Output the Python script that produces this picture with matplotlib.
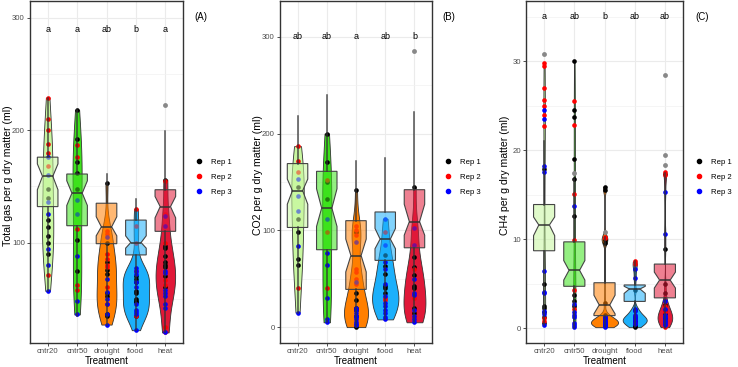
import numpy as np
import matplotlib.pyplot as plt
from matplotlib import cbook
from matplotlib.colors import to_rgba
from matplotlib.lines import Line2D

plt.rcParams['font.family'] = ['Liberation Sans', 'DejaVu Sans']

treatments = ['cntr20', 'cntr50', 'drought', 'flood', 'heat']
fills = ['#c8f7a0', '#3de21c', '#ff7f00', '#1cb0fb', '#e01838']
rep_colors = ['black', 'red', 'blue']
rep_labels = ['Rep 1', 'Rep 2', 'Rep 3']

# ---- (A) total gas, points per rep (one list per treatment)
total_rep1 = [[148, 140, 120, 114, 106, 100, 90],
              [218, 192, 172, 162, 148, 102, 75],
              [153, 100, 83, 76, 72, 55, 52, 36, 35],
              [70, 68, 65, 57, 55, 50, 48, 47, 35],
              [156, 97, 95, 88, 83, 80, 78, 70, 60]]
total_rep2 = [[229, 210, 200, 188, 180, 168, 71],
              [187, 176, 112, 62, 58],
              [110, 108, 90, 85, 80, 78, 60, 45],
              [130, 115, 100, 75, 35],
              [155, 125, 100, 67, 62, 25, 20]]
total_rep3 = [[176, 160, 136, 125, 94, 80, 57],
              [138, 125, 88, 48, 36],
              [105, 68, 56, 50, 45, 36, 27],
              [77, 75, 72, 65, 60, 45, 40, 38, 36, 22],
              [124, 115, 75, 73, 58, 55, 52, 45, 42, 20]]
total_q1 = [132, 115, 99, 89, 110]
total_med = [159, 144, 114, 100, 132]
total_q3 = [176, 161, 135, 120, 147]
total_notch_lo = [147, 133, 106, 95, 122]
total_notch_hi = [170, 155, 123, 106, 141]
total_whislo = [57, 35, 27, 22, 20]
total_whishi = [229, 218, 161, 139, 199]
total_fliers = [[], [], [], [], [222]]
total_letters = ['a', 'a', 'ab', 'b', 'a']

# ---- (B) CO2
co2_rep1 = [[145, 112, 98, 70, 64],
            [200, 171, 150, 132],
            [142, 98, 35, 28, 20, 18, 12, 0],
            [75, 63, 55, 42, 40, 35],
            [145, 72, 62, 54, 42, 40, 20, 15]]
co2_rep2 = [[187, 172, 160, 40],
            [152, 98, 40],
            [104, 100, 95, 60, 57, 50, 45],
            [98, 30, 28],
            [105, 60, 30, 10]]
co2_rep3 = [[153, 135, 120, 84, 15],
            [112, 77, 64, 30, 8, 5],
            [88, 47, 20, 18, 15, 12, 10, 8, 5, 3, 2],
            [112, 85, 67, 60, 45, 32, 25, 22, 18, 15, 10, 8],
            [102, 85, 50, 35, 33, 18, 12, 8, 5]]
co2_q1 = [103, 80, 39, 69, 82]
co2_med = [141, 123, 74, 91, 109]
co2_q3 = [169, 161, 110, 119, 142]
co2_notch_lo = [127, 104, 57, 81, 95]
co2_notch_hi = [153, 143, 91, 102, 127]
co2_whislo = [15, 5, 0, 8, 5]
co2_whishi = [218, 240, 172, 175, 222]
co2_fliers = [[], [], [], [], [285]]
co2_letters = ['ab', 'ab', 'a', 'ab', 'b']

# ---- (C) CH4
ch4_rep1 = [[17.9, 5.0, 2.5, 2.3, 1.8, 1.2, 0.6],
            [30.0, 24.5, 23.8, 19.0, 16.8, 12.6, 3.7, 3.0, 2.5],
            [15.9, 15.5, 9.9, 9.6, 2.8, 1.5, 0.8, 0.6, 0.5, 0.3],
            [4.3, 2.0, 1.1, 0.9, 0.7, 0.5, 0.2, 0.1],
            [17.3, 8.9, 5.0, 4.0, 2.6, 2.0, 1.6, 1.3, 1.0, 0.9, 0.6]]
ch4_rep2 = [[29.8, 29.5, 27.0, 25.7, 25.0, 24.0, 22.7, 1.1, 0.8],
            [25.5, 22.9, 15.1, 9.9, 4.3, 2.2],
            [10.3, 10.1, 1.2, 0.9, 0.7, 0.5, 0.4],
            [7.5, 7.2, 1.4, 1.0, 0.6],
            [17.6, 17.2, 2.5, 2.0, 1.8, 1.4, 0.9, 0.6, 0.1]]
ch4_rep3 = [[24.5, 23.5, 18.2, 17.6, 6.4, 4.1, 3.9, 1.9, 1.6, 0.4],
            [13.7, 2.7, 1.8, 1.5, 1.2, 0.6, 0.3, 0.1],
            [1.3, 1.1, 1.0, 0.8, 0.7, 0.6, 0.5, 0.4, 0.3, 0.2, 0.1],
            [6.6, 5.6, 2.2, 1.9, 1.5, 1.3, 1.2, 1.0, 0.9, 0.8, 0.6, 0.5],
            [15.3, 10.6, 3.0, 2.2, 1.5, 1.3, 1.2, 1.0, 0.8, 0.7, 0.5, 0.4]]
ch4_q1 = [8.7, 4.7, 1.4, 3.0, 3.4]
ch4_med = [11.6, 6.5, 2.6, 4.4, 5.4]
ch4_q3 = [13.9, 9.7, 5.1, 4.85, 7.2]
ch4_notch_lo = [10.4, 5.4, 1.6, 3.9, 4.5]
ch4_notch_hi = [12.5, 7.6, 3.7, 4.7, 6.3]
ch4_whislo = [0.3, 0.0, 0.1, 0.1, 0.0]
ch4_whishi = [21.0, 16.8, 10.3, 7.5, 17.4]
ch4_fliers = [[30.8], [17.5], [10.8], [], [18.4, 19.5, 28.5]]
ch4_letters = ['a', 'ab', 'b', 'ab', 'ab']


def nrd0(x):
    x = np.asarray(x, float)
    sd = x.std(ddof=1)
    iqr = np.subtract(*np.percentile(x, [75, 25]))
    lo = min(sd, iqr / 1.34) if iqr > 0 else sd
    return 0.9 * lo * len(x) ** -0.2


def kde(X, coords):
    X = np.asarray(X, float)
    bw = nrd0(X)
    z = (coords[:, None] - X[None, :]) / bw
    return np.exp(-0.5 * z ** 2).sum(1) / (len(X) * bw * np.sqrt(2 * np.pi))


def panel(ax, reps, q1, med, q3, nlo, nhi, wlo, whi, fliers, letters,
          letter_y, ylim, yticks, minor, ylabel, label_x):
    pos = np.arange(1, 6)
    groups = [r1 + r2 + r3 for r1, r2, r3 in zip(*reps)]

    # violins, area scaled like ggplot
    vp = cbook.violin_stats(groups, kde, points=200)
    peak = [v['vals'].max() for v in vp]
    widths = [0.9 * p / max(peak) for p in peak]
    parts = ax.violin(vp, positions=pos, widths=widths, showextrema=False)
    for body, c in zip(parts['bodies'], fills):
        body.set_facecolor(c)
        body.set_edgecolor('#333333')
        body.set_linewidth(0.6)
        body.set_alpha(1)
        body.set_zorder(2)

    # points
    for vals, col in zip(reps, rep_colors):
        for p, v in zip(pos, vals):
            ax.scatter([p] * len(v), v, s=11, color=col, linewidths=0, zorder=3)

    # notched boxes on top
    stats = []
    for i in range(5):
        stats.append(dict(q1=q1[i], med=med[i], q3=q3[i], cilo=nlo[i], cihi=nhi[i],
                          whislo=wlo[i], whishi=whi[i], fliers=fliers[i]))
    bp = ax.bxp(stats, positions=pos, widths=0.7, shownotches=True, patch_artist=True,
                showcaps=False, zorder=4,
                boxprops=dict(edgecolor='#444444', linewidth=0.8),
                whiskerprops=dict(color='#333333', linewidth=1.1, alpha=0.85),
                medianprops=dict(color='#333333', linewidth=1.1),
                flierprops=dict(marker='o', markerfacecolor='#888888',
                                markeredgecolor='none', markersize=3.5))
    for b, c in zip(bp['boxes'], fills):
        b.set_facecolor(to_rgba(c, 0.55))

    for p, t in zip(pos, letters):
        ax.text(p, letter_y, t, ha='center', va='center', fontsize=6.5, zorder=6)

    ax.set_xlim(0.4, 5.6)
    ax.set_ylim(*ylim)
    ax.set_xticks(pos)
    ax.set_xticklabels(treatments)
    ax.set_yticks(yticks)
    ax.set_yticks(minor, minor=True)
    ax.set_axisbelow(True)
    ax.grid(True, which='major', color='#ebebeb', linewidth=0.8)
    ax.grid(True, which='minor', axis='y', color='#f2f2f2', linewidth=0.5)
    ax.tick_params(which='major', length=2.5, width=0.6, color='#333333',
                   labelsize=5.6, labelcolor='#4d4d4d', pad=1.2)
    ax.tick_params(which='minor', length=0)
    for s in ax.spines.values():
        s.set_color('#333333')
        s.set_linewidth(1.0)
    ax.set_xlabel('Treatment', fontsize=7, labelpad=0.5)
    ax.set_ylabel(ylabel, fontsize=7.6)
    ax.yaxis.set_label_coords(label_x, 0.49)

    handles = [Line2D([], [], marker='o', linestyle='', color=c, markersize=3)
               for c in rep_colors]
    ax.legend(handles, rep_labels, loc='center left', bbox_to_anchor=(1.06, 0.485),
              frameon=False, fontsize=5.6, handlelength=0.6, handletextpad=1.2,
              labelspacing=0.95, borderaxespad=0.2)


fig = plt.figure(figsize=(7.38, 3.67), dpi=100)
axA = fig.add_axes([30 / 738, 24 / 367, 153 / 738, 342 / 367])
axB = fig.add_axes([280 / 738, 24 / 367, 152 / 738, 342 / 367])
axC = fig.add_axes([526 / 738, 24 / 367, 157 / 738, 342 / 367])

panel(axA, [total_rep1, total_rep2, total_rep3], total_q1, total_med, total_q3,
      total_notch_lo, total_notch_hi, total_whislo, total_whishi, total_fliers,
      total_letters, 290, (10.6, 315), [100, 200, 300], [50, 150, 250],
      'Total gas per g dry matter (ml)', -0.112)
panel(axB, [co2_rep1, co2_rep2, co2_rep3], co2_q1, co2_med, co2_q3,
      co2_notch_lo, co2_notch_hi, co2_whislo, co2_whishi, co2_fliers,
      co2_letters, 300, (-16.4, 337), [0, 100, 200, 300], [50, 150, 250],
      'CO2 per g dry matter (ml)', -0.112)
panel(axC, [ch4_rep1, ch4_rep2, ch4_rep3], ch4_q1, ch4_med, ch4_q3,
      ch4_notch_lo, ch4_notch_hi, ch4_whislo, ch4_whishi, ch4_fliers,
      ch4_letters, 35, (-1.68, 36.8), [0, 10, 20, 30], [5, 15, 25, 35],
      'CH4 per g dry matter (ml)', -0.105)

fig.text(201 / 738, 1 - 17 / 367, '(A)', ha='center', va='center', fontsize=7)
fig.text(449 / 738, 1 - 17 / 367, '(B)', ha='center', va='center', fontsize=7)
fig.text(702 / 738, 1 - 17 / 367, '(C)', ha='center', va='center', fontsize=7)

fig.savefig('out.png', dpi=100)
